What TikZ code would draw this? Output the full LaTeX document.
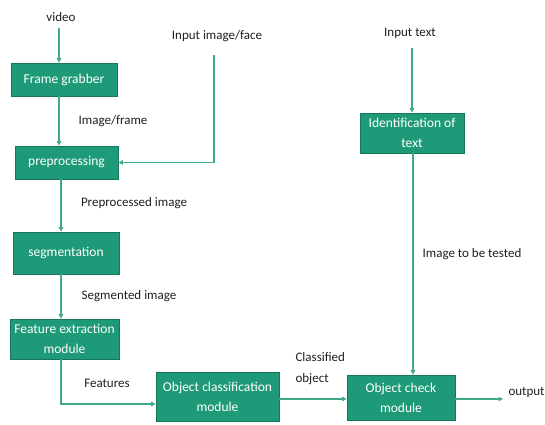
\documentclass[tikz,border=0pt]{standalone}
\usepackage{fontspec}
\setmainfont{Carlito}
\usepackage{tikz}
\usetikzlibrary{arrows.meta,positioning,calc}
\usepackage{xcolor}

\definecolor{boxfill}{RGB}{30,154,120}
\definecolor{boxline}{RGB}{22,118,92}
\definecolor{linkcol}{RGB}{62,170,138}

\tikzset{
  block/.style={draw=boxline, line width=0.8pt, fill=boxfill, text=white,
    align=center, inner sep=0pt, font=\fontsize{13.5}{20}\selectfont},
  lbl/.style={text=black!88, align=left, font=\fontsize{13}{21}\selectfont},
  link/.style={draw=linkcol, line width=1.1pt,
    -{Triangle[length=4.5pt,width=4.5pt]}}
}

\begin{document}
\begin{tikzpicture}[x=10pt, y=10pt]
    \useasboundingbox (0,0) rectangle (54.5,42.4);

    % Left column
    \node[lbl] (video) at (6.1,40.7) {video};
    \node[block, minimum width=106pt, minimum height=33pt] (grabber) at (6.4,34.45) {Frame grabber};
    \node[block, minimum width=103pt, minimum height=33pt] (prep) at (6.65,26.15) {preprocessing};
    \node[block, minimum width=106pt, minimum height=42pt] (seg) at (6.6,17.1) {segmentation};
    \node[block, minimum width=109pt, minimum height=40pt] (feat) at (6.45,8.5) {Feature extraction\\module};

    % Bottom row
    \node[block, minimum width=123pt, minimum height=49pt] (cls) at (21.75,2.75) {Object classification\\module};
    \node[block, minimum width=108pt, minimum height=45pt] (check) at (40.1,2.65) {Object check\\module};
    \node[lbl, anchor=west] (output) at (50.5,3.2) {output};

    % Right column
    \node[lbl] (intext) at (41.0,39.1) {Input text};
    \node[block, minimum width=104pt, minimum height=40pt] (ident) at (41.2,29.1) {Identification of\\text};

    % Labels on the links
    \node[lbl] (imgface) at (21.7,38.8) {Input image/face};
    \node[lbl] (imgframe) at (11.3,30.3) {Image/frame};
    \node[lbl] (prepimg) at (13.4,22.1) {Preprocessed image};
    \node[lbl] (segimg) at (12.9,12.8) {Segmented image};
    \node[lbl] (features) at (10.7,4.1) {Features};
    \node[lbl, anchor=west] (classified) at (29.2,5.55) {Classified\\object};
    \node[lbl] (tested) at (47.2,17.0) {Image to be tested};

    % Columns and rows the links run along
    \coordinate (c1) at (5.9,0);
    \coordinate (c2) at (6.1,0);
    \coordinate (c3) at (21.4,0);
    \coordinate (c4) at (41.2,0);
    \coordinate (c5) at (41.3,0);
    \coordinate (low) at (0,2.0);
    \coordinate (mid) at (0,2.5);

    % Links
    \draw[link, shorten <=3pt] (video.south -| c1) -- (grabber.north -| c1);
    \draw[link] (grabber.south -| c1) -- (prep.north -| c1);
    \draw[link, shorten <=10pt] (imgface.south -| c3) |- (prep.east);
    \draw[link] (prep.south -| c2) -- (seg.north -| c2);
    \draw[link] (seg.south -| c2) -- (feat.north -| c2);
    \draw[link] (feat.south -| c2) |- (cls.west |- low);
    \draw[link] (cls.east |- mid) -- (check.west |- mid);
    \draw[link] (check.east |- mid) -- ([xshift=-2pt]output.west |- mid);
    \draw[link, shorten <=6pt] (intext.south -| c4) -- (ident.north -| c4);
    \draw[link] (ident.south -| c5) -- (check.north -| c5);
\end{tikzpicture}
\end{document}
